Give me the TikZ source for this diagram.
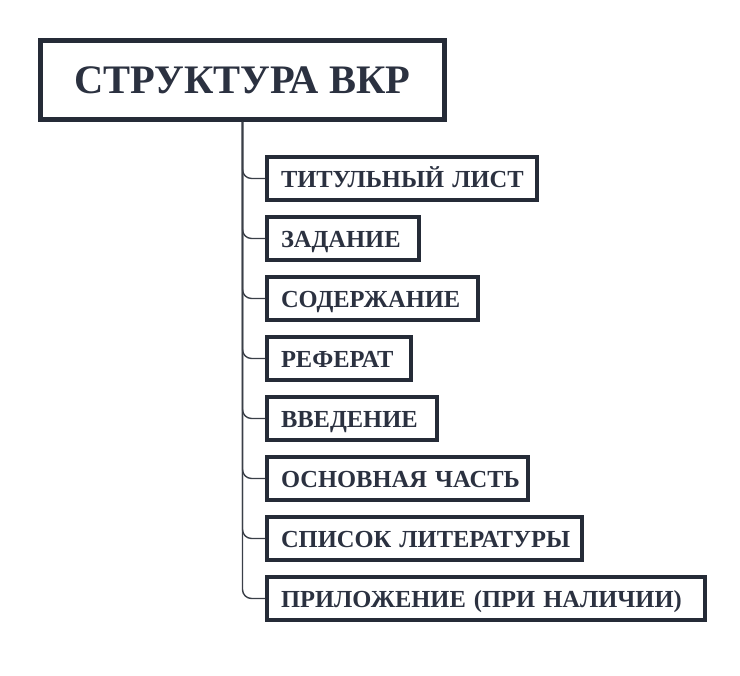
\documentclass[tikz,border=0pt]{standalone}
\usepackage{fontspec}
\setmainfont{Liberation Serif}
\definecolor{navy}{HTML}{252B37}
\definecolor{txt}{HTML}{2B3140}
\definecolor{ln}{HTML}{3A3F48}
\begin{document}
\begin{tikzpicture}[x=1pt,y=1pt,
  titlebox/.style={draw=navy,line width=5pt,fill=white,minimum width=404pt,minimum height=79pt,inner sep=0pt,font=\fontsize{40.5}{44}\selectfont\bfseries,text=txt},
  itembox/.style={draw=navy,line width=4pt,fill=white,anchor=west,minimum height=43pt,inner xsep=14pt,inner ysep=0pt,text height=18pt,text depth=0pt,align=left,font=\fontsize{24.5}{27}\selectfont\bfseries,text=txt},
  conn/.style={draw=ln,line width=1.4pt,rounded corners=9pt}]
\useasboundingbox (0,0) rectangle (740,676);
\fill[white] (0,0) rectangle (740,676);
\node[titlebox] (t) at (242.5,596) {СТРУКТУРА ВКР};
\node[itembox,text width=242pt] (b1) at (265,497.5) {\mbox{ТИТУЛЬНЫЙ ЛИСТ}};
\node[itembox,text width=124pt] (b2) at (265,437.5) {\mbox{ЗАДАНИЕ}};
\node[itembox,text width=183pt] (b3) at (265,377.5) {\mbox{СОДЕРЖАНИЕ}};
\node[itembox,text width=116pt] (b4) at (265,317.5) {\mbox{РЕФЕРАТ}};
\node[itembox,text width=142pt] (b5) at (265,257.5) {\mbox{ВВЕДЕНИЕ}};
\node[itembox,text width=233pt] (b6) at (265,197.5) {\mbox{ОСНОВНАЯ ЧАСТЬ}};
\node[itembox,text width=287pt] (b7) at (265,137.5) {\mbox{СПИСОК ЛИТЕРАТУРЫ}};
\node[itembox,text width=410pt] (b8) at (265,77.5) {\mbox{ПРИЛОЖЕНИЕ (ПРИ НАЛИЧИИ)}};
\begin{scope}[on background layer/.try]
\foreach \b in {b1,b2,b3,b4,b5,b6,b7,b8}{
  \draw[conn] (t.south) |- (\b.west);
}
\end{scope}
\end{tikzpicture}
\end{document}
